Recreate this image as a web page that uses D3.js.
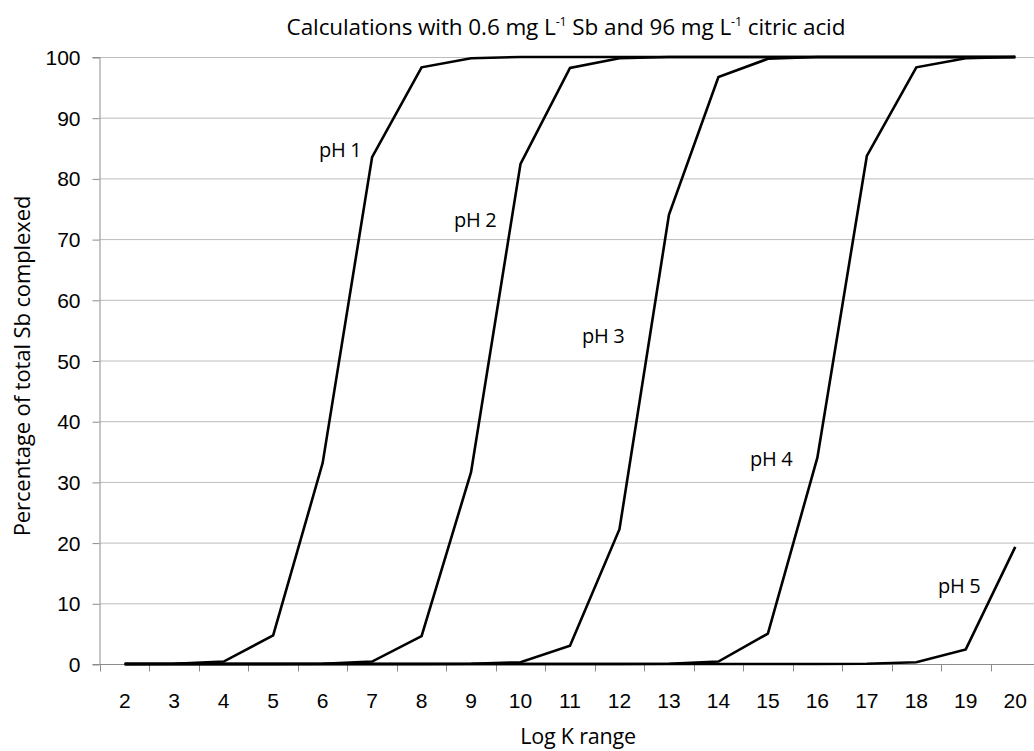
<!DOCTYPE html>
<html>
<head>
<meta charset="utf-8">
<script src="https://cdn.jsdelivr.net/npm/d3@7/dist/d3.min.js"></script>
<style>
  html, body { margin: 0; padding: 0; background: #fff; }
  svg { display: block; }
</style>
</head>
<body>
<svg id="chart" width="1034" height="751"></svg>
<script>
// ---- data ----
const logK = [2, 3, 4, 5, 6, 7, 8, 9, 10, 11, 12, 13, 14, 15, 16, 17, 18, 19, 20];
const yTicks = [0, 10, 20, 30, 40, 50, 60, 70, 80, 90, 100];
const seriesNames = ["pH 1", "pH 2", "pH 3", "pH 4", "pH 5"];
const pH1 = [0, 0.05, 0.4, 4.7, 33.1, 83.5, 98.3, 99.8, 100, 100, 100, 100, 100, 100, 100, 100, 100, 100, 100];
const pH2 = [0, 0, 0, 0, 0.05, 0.4, 4.6, 31.6, 82.4, 98.2, 99.8, 100, 100, 100, 100, 100, 100, 100, 100];
const pH3 = [0, 0, 0, 0, 0, 0, 0, 0.03, 0.3, 3.0, 22.2, 74.0, 96.7, 99.7, 100, 100, 100, 100, 100];
const pH4 = [0, 0, 0, 0, 0, 0, 0, 0, 0, 0, 0, 0.05, 0.4, 5.0, 34.0, 83.7, 98.3, 99.8, 100];
const pH5 = [0, 0, 0, 0, 0, 0, 0, 0, 0, 0, 0, 0, 0, 0, 0, 0.05, 0.3, 2.4, 19.3];
const seriesValues = [pH1, pH2, pH3, pH4, pH5];
const titleParts = ["Calculations with 0.6 mg L", "-1", " Sb and 96 mg L", "-1", " citric acid"];
const xTitle = "Log K range";
const yTitle = "Percentage of total Sb complexed";

// ---- layout ----
const svg = d3.select("#chart");
const plot = { left: 100, right: 1040, top: 57, bottom: 664 };

const x = d3.scaleBand().domain(logK).range([plot.left, plot.right]);
const y = d3.scaleLinear().domain([0, 100]).range([plot.bottom, plot.top]);

// gridlines
svg.append("g")
  .selectAll("line")
  .data(yTicks.filter(d => d > 0))
  .join("line")
  .attr("x1", plot.left).attr("x2", plot.right)
  .attr("y1", d => y(d) + 0.5).attr("y2", d => y(d) + 0.5)
  .attr("stroke", "#bcbcbc").attr("stroke-width", 1);

// y axis
const yAxis = svg.append("g")
  .attr("transform", `translate(${plot.left - 0.5},0)`)
  .call(d3.axisLeft(y).tickValues(yTicks).tickSize(7).tickPadding(12));
yAxis.select(".domain").attr("stroke", "#8c8c8c");
yAxis.selectAll(".tick line").attr("stroke", "#8c8c8c").attr("transform", "translate(0,0.5)");
yAxis.selectAll(".tick text")
  .attr("font-family", "'Liberation Sans', Arial, sans-serif")
  .attr("font-size", 21).attr("fill", "#000").attr("dy", "0.36em");

// x axis (ticks between categories)
const xAxisG = svg.append("g").attr("transform", `translate(0,${plot.bottom + 0.5})`);
xAxisG.append("line")
  .attr("x1", plot.left).attr("x2", plot.right)
  .attr("stroke", "#8c8c8c");
const bounds = logK.map(d => x(d)).concat([x(logK[logK.length - 1]) + x.bandwidth()]);
xAxisG.selectAll("line.tk").data(bounds).join("line").attr("class", "tk")
  .attr("x1", d => Math.round(d) + 0.5).attr("x2", d => Math.round(d) + 0.5)
  .attr("y1", 0).attr("y2", 7).attr("stroke", "#8c8c8c");
xAxisG.selectAll("text").data(logK).join("text")
  .attr("x", d => x(d) + x.bandwidth() / 2)
  .attr("y", 43)
  .attr("text-anchor", "middle")
  .attr("font-family", "'Liberation Sans', Arial, sans-serif")
  .attr("font-size", 21)
  .text(d => d);

// series lines
const line = d3.line()
  .x((d, i) => x(logK[i]) + x.bandwidth() / 2)
  .y(d => y(d));
svg.append("g").selectAll("path")
  .data(seriesValues)
  .join("path")
  .attr("d", line)
  .attr("fill", "none")
  .attr("stroke", "#000")
  .attr("stroke-width", 2.6)
  .attr("stroke-linejoin", "miter");

// series labels
const labelPos = [[319, 157], [454, 227], [582, 343], [750, 466], [938, 593]];
svg.append("g").selectAll("text")
  .data(seriesNames)
  .join("text")
  .attr("x", (d, i) => labelPos[i][0])
  .attr("y", (d, i) => labelPos[i][1])
  .attr("font-family", "'Open Sans', sans-serif")
  .attr("font-size", 20)
  .attr("letter-spacing", -0.3)
  .text(d => d);

// title
const title = svg.append("text")
  .attr("x", 566)
  .attr("y", 35)
  .attr("text-anchor", "middle")
  .attr("font-family", "'Open Sans', sans-serif")
  .attr("font-size", 22.5)
  .attr("letter-spacing", -0.1);
titleParts.forEach((t, i) => {
  const sup = i % 2 === 1;
  title.append("tspan")
    .attr("font-size", sup ? 12.5 : null)
    .attr("dy", sup ? -9 : (i > 0 ? 9 : 0))
    .text(t);
});

// axis titles
svg.append("text")
  .attr("x", 578)
  .attr("y", 744)
  .attr("text-anchor", "middle")
  .attr("font-family", "'Open Sans', sans-serif")
  .attr("font-size", 21.5)
  .attr("letter-spacing", -0.2)
  .text(xTitle);

svg.append("text")
  .attr("transform", `translate(30,366) rotate(-90)`)
  .attr("text-anchor", "middle")
  .attr("font-family", "'Open Sans', sans-serif")
  .attr("font-size", 22)
  .attr("letter-spacing", -0.1)
  .text(yTitle);
</script>
</body>
</html>
